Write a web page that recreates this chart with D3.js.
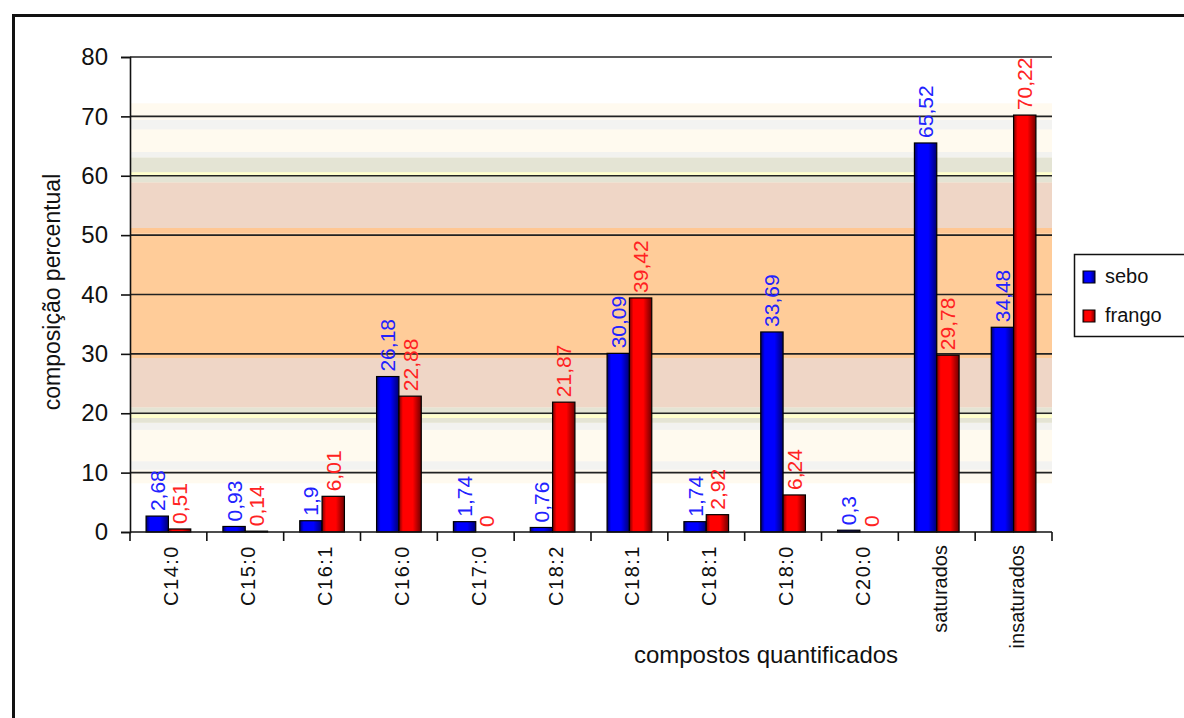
<!DOCTYPE html>
<html>
<head>
  <meta charset="utf-8">
  <title>Composição percentual - sebo x frango</title>
  <script src="https://d3js.org/d3.v7.min.js"></script>
  <style>
    body { margin: 0; background: #fff; }
    svg { display: block; font-family: "Liberation Sans", Arial, sans-serif; }
    .axis text { fill: #111; }
  </style>
</head>
<body>

  <svg width="1184" height="718"></svg>

  <script>
    // Data
    const categories = ["C14:0", "C15:0", "C16:1", "C16:0", "C17:0", "C18:2",
                        "C18:1", "C18:1", "C18:0", "C20:0", "saturados", "insaturados"];
    const series = ["sebo", "frango"];
    const sebo   = [2.68, 0.93, 1.9, 26.18, 1.74, 0.76, 30.09, 1.74, 33.69, 0.3, 65.52, 34.48];
    const frango = [0.51, 0.14, 6.01, 22.88, 0, 21.87, 39.42, 2.92, 6.24, 0, 29.78, 70.22];
    const yTicks = [0, 10, 20, 30, 40, 50, 60, 70, 80];

    const values = { sebo: sebo, frango: frango };
    const fmt = v => String(v).replace(".", ",");

    // background bands of the plot area (value ranges)
    const bands = [
      [8.2, 72.2, "#fffaef"],
      [10.5, 11.9, "#f3f3f1"],
      [17.2, 18.4, "#f2f2ef"],
      [18.4, 21.0, "#e4e4d4"],
      [19.2, 19.8, "#ffffcc"],
      [21.0, 29.3, "#efd6c6"],
      [29.3, 50.3, "#ffcc99"],
      [50.3, 51.2, "#ffc793"],
      [51.2, 58.9, "#efd6c6"],
      [58.9, 63.1, "#e4e4d4"],
      [59.9, 60.6, "#ffffcc"],
      [63.1, 64.0, "#f2f2ef"],
      [67.8, 69.4, "#f3f3f1"]
    ];

    const plot = { left: 130, right: 1052, top: 57, bottom: 532 };
    const svg = d3.select("svg");

    // outer chart border
    svg.append("rect")
      .attr("x", 13.5).attr("y", 15.5)
      .attr("width", 1200).attr("height", 720)
      .attr("fill", "none").attr("stroke", "#111").attr("stroke-width", 3);

    const x0 = d3.scaleBand()
      .domain(categories.map((_, i) => i))
      .range([plot.left, plot.right]);

    const x1 = d3.scaleBand()
      .domain(series)
      .range([0, x0.bandwidth()])
      .paddingOuter(0.72);

    const y = d3.scaleLinear()
      .domain([0, 80])
      .range([plot.bottom, plot.top]);

    // gradients for the shaded bars
    const defs = svg.append("defs");
    const grads = { sebo: ["#00006a", "#0000ff", "#000070"], frango: ["#7a0000", "#ff0000", "#700000"] };
    series.forEach(s => {
      const g = defs.append("linearGradient").attr("id", "g-" + s)
        .attr("x1", 0).attr("x2", 1).attr("y1", 0).attr("y2", 0);
      g.append("stop").attr("offset", "0%").attr("stop-color", grads[s][0]);
      g.append("stop").attr("offset", "18%").attr("stop-color", grads[s][1]);
      g.append("stop").attr("offset", "62%").attr("stop-color", grads[s][1]);
      g.append("stop").attr("offset", "100%").attr("stop-color", grads[s][2]);
    });

    // background
    svg.append("g").selectAll("rect")
      .data(bands)
      .enter().append("rect")
      .attr("x", plot.left)
      .attr("width", plot.right - plot.left)
      .attr("y", d => y(d[1]))
      .attr("height", d => y(d[0]) - y(d[1]))
      .attr("fill", d => d[2]);

    // gridlines
    svg.append("g").selectAll("line")
      .data(yTicks.filter(t => t > 0))
      .enter().append("line")
      .attr("x1", plot.left).attr("x2", plot.right)
      .attr("y1", d => y(d)).attr("y2", d => y(d))
      .attr("stroke", "#222").attr("stroke-width", 1.7);

    // bars
    const groups = svg.append("g").selectAll("g")
      .data(categories.map((c, i) => i))
      .enter().append("g")
      .attr("transform", i => `translate(${x0(i)},0)`);

    groups.selectAll("rect")
      .data(i => series.map(s => ({ s: s, v: values[s][i] })))
      .enter().append("rect")
      .filter(d => d.v > 0)
      .attr("x", d => x1(d.s))
      .attr("width", x1.bandwidth())
      .attr("y", d => y(d.v))
      .attr("height", d => y(0) - y(d.v))
      .attr("fill", d => `url(#g-${d.s})`)
      .attr("stroke", "#000").attr("stroke-width", 1.2);

    // value labels
    groups.selectAll("text")
      .data(i => series.map(s => ({ s: s, v: values[s][i] })))
      .enter().append("text")
      .attr("transform", d => `translate(${x1(d.s) + x1.bandwidth() / 2},${y(d.v) - 5}) rotate(-90)`)
      .attr("dy", "0.36em")
      .attr("font-size", 21)
      .attr("fill", d => d.s === "sebo" ? "#2222ff" : "#ff2222")
      .text(d => fmt(d.v));

    // y axis
    const yAxis = svg.append("g")
      .attr("class", "axis")
      .attr("transform", `translate(${plot.left},0)`)
      .call(d3.axisLeft(y).tickValues(yTicks).tickSize(9).tickPadding(13));
    yAxis.selectAll("text").attr("font-size", 24);
    yAxis.selectAll("line, path").attr("stroke", "#111").attr("stroke-width", 1.6);

    // x axis: baseline, boundary ticks and rotated labels
    const xAxis = svg.append("g").attr("class", "axis");
    xAxis.append("line")
      .attr("x1", plot.left).attr("x2", plot.right)
      .attr("y1", y(0)).attr("y2", y(0))
      .attr("stroke", "#111").attr("stroke-width", 1.6);
    xAxis.selectAll(".tick-b")
      .data(categories.map((_, i) => x0(i)).concat([x0.range()[1]]))
      .enter().append("line")
      .attr("x1", d => d).attr("x2", d => d)
      .attr("y1", y(0)).attr("y2", y(0) + 9)
      .attr("stroke", "#111").attr("stroke-width", 1.6);
    xAxis.selectAll(".lbl")
      .data(categories)
      .enter().append("text")
      .attr("transform", (d, i) => `translate(${x0(i) + x0.bandwidth() / 2},${y(0) + 13}) rotate(-90)`)
      .attr("text-anchor", "end")
      .attr("dy", "0.5em")
      .attr("font-size", 20)
      .attr("letter-spacing", d => /^C/.test(d) ? 1.5 : 0)
      .attr("fill", "#111")
      .text(d => d);

    // axis titles
    svg.append("text")
      .attr("transform", "translate(52,292) rotate(-90)")
      .attr("text-anchor", "middle")
      .attr("dy", "0.35em")
      .attr("font-size", 23)
      .attr("fill", "#111")
      .text("composição percentual");

    svg.append("text")
      .attr("x", 766).attr("y", 663)
      .attr("text-anchor", "middle")
      .attr("font-size", 24)
      .attr("fill", "#111")
      .text("compostos quantificados");

    // legend
    const legend = svg.append("g");
    legend.append("rect")
      .attr("x", 1074.5).attr("y", 254.5)
      .attr("width", 140).attr("height", 82)
      .attr("fill", "#fff").attr("stroke", "#111").attr("stroke-width", 1.5);
    series.forEach((s, i) => {
      const yy = 271 + i * 39;
      legend.append("rect")
        .attr("x", 1083).attr("y", yy)
        .attr("width", 12).attr("height", 12)
        .attr("fill", `url(#g-${s})`).attr("stroke", "#000");
      legend.append("text")
        .attr("x", 1105).attr("y", yy + 12)
        .attr("font-size", 20)
        .attr("fill", "#111")
        .text(s);
    });
  </script>

</body>
</html>
